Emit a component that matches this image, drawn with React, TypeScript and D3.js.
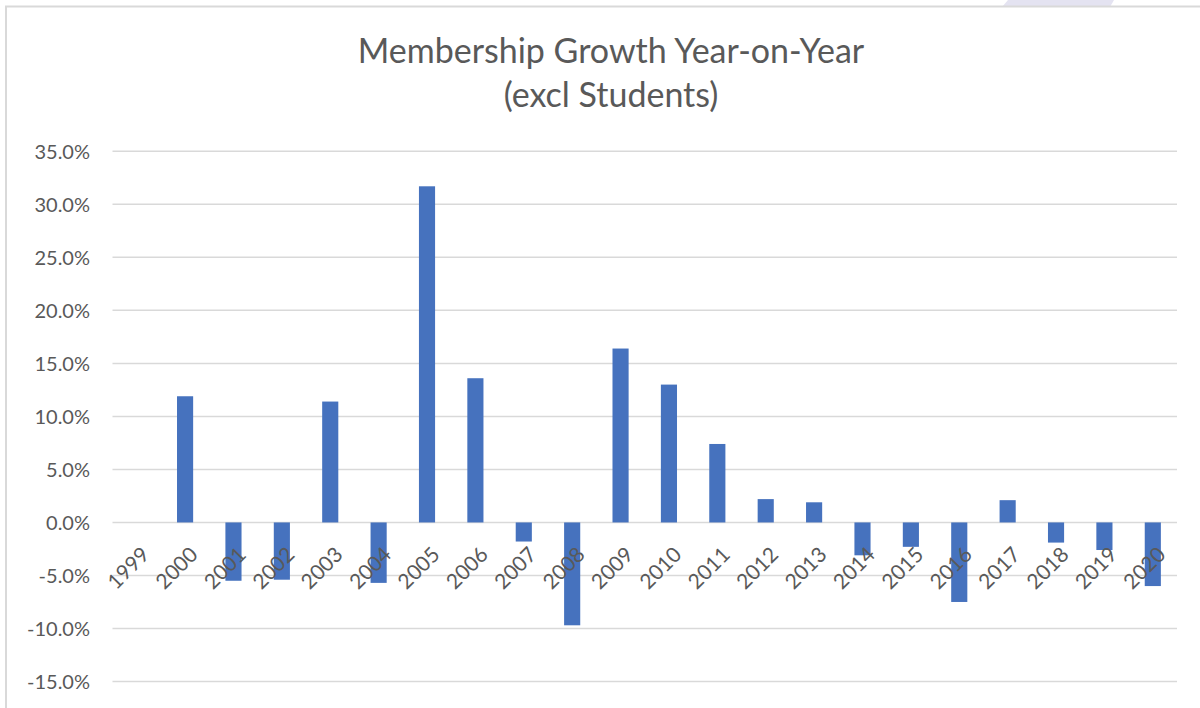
import React from "react";
import * as d3 from "d3";

const years = [
  "1999", "2000", "2001", "2002", "2003", "2004", "2005", "2006", "2007", "2008", "2009",
  "2010", "2011", "2012", "2013", "2014", "2015", "2016", "2017", "2018", "2019", "2020",
];
const growth = [
  0, 0.119, -0.055, -0.054, 0.114, -0.057, 0.317, 0.136, -0.018, -0.097, 0.164,
  0.130, 0.074, 0.022, 0.019, -0.031, -0.023, -0.075, 0.021, -0.019, -0.026, -0.060,
];
const yTicks = [0.35, 0.3, 0.25, 0.2, 0.15, 0.1, 0.05, 0, -0.05, -0.1, -0.15];
const titleLines = ["Membership Growth Year-on-Year", "(excl Students)"];

const W = 1200;
const H = 708;
const font = "Lato, 'Open Sans', sans-serif";
const textColor = "#595959";

// Excel shows a plain hyphen for negatives
const fmt = d3.formatLocale({ decimal: ".", thousands: ",", grouping: [3], currency: ["", ""], minus: "-" }).format(".1%");

export default function App() {
  const x = d3.scaleBand<string>().domain(years).range([112.5, 1177]).paddingInner(2 / 3).paddingOuter(1 / 3);
  const y = d3.scaleLinear().domain([-0.15, 0.35]).range([681.5, 151.3]);

  return (
    <svg width={W} height={H} style={{ position: "absolute", left: 0, top: 0, background: "#fff" }}>
      {/* decorative shape peeking in at the top */}
      <path d="M1008,0 L1114,0 L1110,7 L1002,7 Z" fill="#e4e3f1" />
      {/* chart frame */}
      <path d={`M6,${H} L6,6.5 L${W},6.5`} fill="none" stroke="#d9d9d9" strokeWidth={2} />

      {titleLines.map((t, i) => (
        <text key={t} x={611} y={63 + i * 44} textAnchor="middle" fontFamily={font} fontSize={34} fill={textColor}>
          {t}
        </text>
      ))}

      {yTicks.map(v => (
        <g key={v}>
          <line x1={112.5} x2={1177} y1={y(v)} y2={y(v)} stroke="#d9d9d9" strokeWidth={1.5} />
          <text x={90} y={y(v)} dy="0.36em" textAnchor="end" fontFamily={font} fontSize={20} fill={textColor}>
            {fmt(v)}
          </text>
        </g>
      ))}

      {years.map((yr, i) => {
        const v = growth[i];
        if (v === 0) return null;
        return (
          <rect
            key={yr}
            x={x(yr)}
            width={x.bandwidth()}
            y={Math.min(y(v), y(0))}
            height={Math.abs(y(v) - y(0))}
            fill="#4672be"
          />
        );
      })}

      {years.map(yr => {
        const cx = (x(yr) as number) + x.bandwidth() / 2;
        return (
          <text
            key={yr}
            transform={`translate(${cx + 14},${556}) rotate(-45)`}
            textAnchor="end"
            fontFamily={font}
            fontSize={21}
            fill={textColor}
          >
            {yr}
          </text>
        );
      })}
    </svg>
  );
}
